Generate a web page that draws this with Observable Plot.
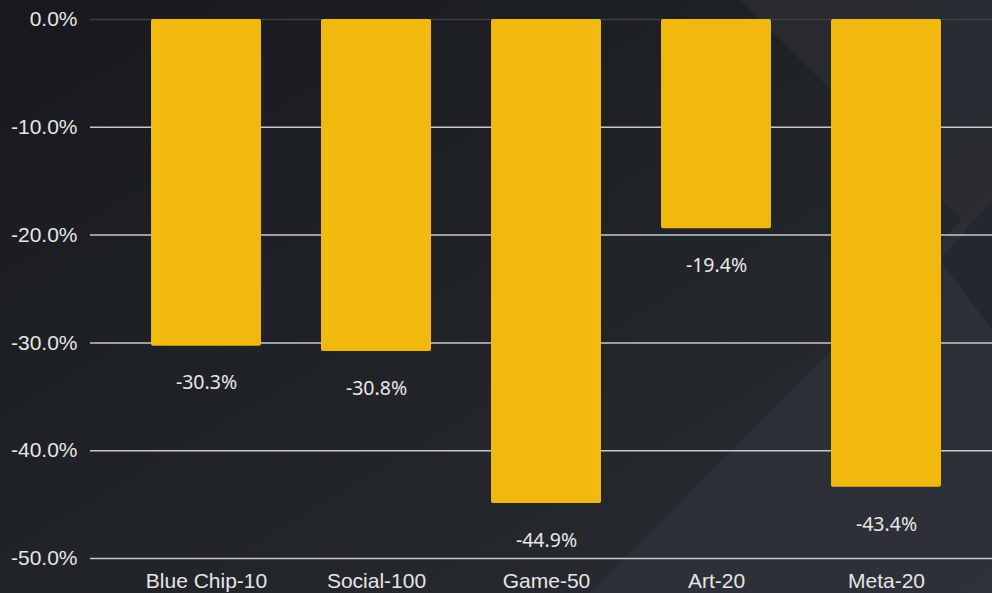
<!DOCTYPE html>
<html><head><meta charset="utf-8">
<script src="https://cdn.jsdelivr.net/npm/d3@7"></script>
<script src="https://cdn.jsdelivr.net/npm/@observablehq/plot@0.6"></script>
<style>
html,body{margin:0;padding:0;width:992px;height:593px;overflow:hidden;background:#1d2026;}
#bg{position:absolute;left:0;top:0;width:992px;height:593px;}
#chart{position:absolute;left:0;top:0;}
</style></head>
<body>
<svg id="bg" width="992" height="593">
 <defs>
  <linearGradient id="g0" x1="0" y1="0" x2="1" y2="1">
   <stop offset="0" stop-color="#17191d"/>
   <stop offset="1" stop-color="#2a2d33"/>
  </linearGradient>
 </defs>
 <rect width="992" height="593" fill="url(#g0)"/>
 <polygon points="590,593 992,190 992,593" fill="#2f3239" opacity="0.8"/>
 <polygon points="740,0 992,0 992,250" fill="#2a2d33" opacity="0.8"/>
 <polygon points="940,260 992,200 992,330" fill="#25272d" opacity="0.9"/>
</svg>
<div id="chart"></div>
<script>
const categories = ["Blue Chip-10","Social-100","Game-50","Art-20","Meta-20"];
const values = [-30.3,-30.8,-44.9,-19.4,-43.4];
const yTicks = [0,-10,-20,-30,-40,-50];

const data = categories.map((c,i)=>({cat:c, v:values[i]}));
const fmt = d => d.toFixed(1) + "%";

const chart = Plot.plot({
  width: 992,
  height: 593,
  marginTop: 19,
  marginBottom: 35,
  marginLeft: 90,
  marginRight: 0,
  style: {background:"transparent", color:"#e6e6e6", fontFamily:"'Liberation Sans', Arial, sans-serif", fontSize:"21px"},
  x: {domain: categories, paddingInner: 0.355, paddingOuter: 0.3226, align: 0.545, label: null, tickSize: 0},
  y: {domain: [-50, 0], ticks: yTicks, tickFormat: fmt, label: null, tickSize: 0},
  marks: [
    Plot.ruleY(yTicks.filter(d=>d!==0), {stroke:"#c8c8c8", strokeWidth:1.5}),
    Plot.ruleY([0], {stroke:"#3c3e44", strokeWidth:1.5}),
    Plot.barY(data, {x:"cat", y:"v", fill:"#F0B90B", rx:2}),
    Plot.text(data, {x:"cat", y:"v", text: d=>fmt(d.v), dy:37, fill:"#e8e8e8", fontSize:19.5, fontFamily:"'Noto Sans', sans-serif"}),
    Plot.axisY({ticks: yTicks, tickFormat: fmt, tickSize:0, tickPadding:13, fontSize:21, fill:"#e6e6e6", label:null}),
    Plot.axisX({tickSize:0, tickPadding:15, fontSize:21, fill:"#e6e6e6", label:null})
  ]
});
document.getElementById("chart").appendChild(chart);
</script>
</body></html>
